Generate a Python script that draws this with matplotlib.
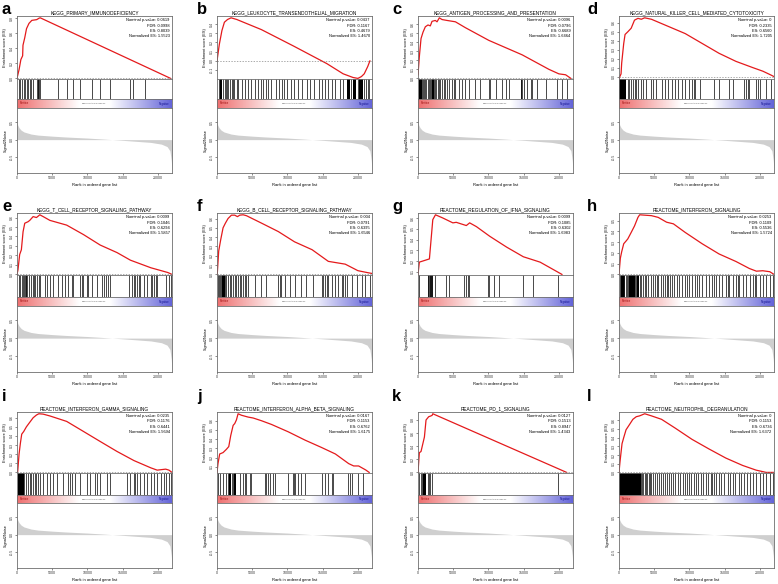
import matplotlib
matplotlib.use("Agg")
import matplotlib.pyplot as plt
from matplotlib.colors import LinearSegmentedColormap
from matplotlib.ticker import MultipleLocator, FormatStrFormatter
import numpy as np

plt.rcParams['font.family'] = ['Liberation Sans', 'DejaVu Sans']

W, H = 778, 584
N_GENES = 22000

letters = list("abcdefghijkl")
titles = [
    "KEGG_PRIMARY_IMMUNODEFICIENCY",
    "KEGG_LEUKOCYTE_TRANSENDOTHELIAL_MIGRATION",
    "KEGG_ANTIGEN_PROCESSING_AND_PRESENTATION",
    "KEGG_NATURAL_KILLER_CELL_MEDIATED_CYTOTOXICITY",
    "KEGG_T_CELL_RECEPTOR_SIGNALING_PATHWAY",
    "KEGG_B_CELL_RECEPTOR_SIGNALING_PATHWAY",
    "REACTOME_REGULATION_OF_IFNA_SIGNALING",
    "REACTOME_INTERFERON_SIGNALING",
    "REACTOME_INTERFERON_GAMMA_SIGNALING",
    "REACTOME_INTERFERON_ALPHA_BETA_SIGNALING",
    "REACTOME_PD_1_SIGNALING",
    "REACTOME_NEUTROPHIL_DEGRANULATION",
]
pvals = ["0.0619", "0.0437", "0.0096", "0", "0.0099", "0.004",
         "0.0099", "0.0253", "0.0235", "0.0167", "0.0127", "0"]
fdrs = ["0.0998", "0.1167", "0.0796", "0.2335", "0.1046", "0.0791",
        "0.1085", "0.1109", "0.1176", "0.1153", "0.1513", "0.1153"]
es_txt = ["0.8039", "0.4679", "0.6689", "0.6560", "0.6294", "0.6395",
          "0.6302", "0.5536", "0.6441", "0.6762", "0.8947", "0.6736"]
nes_txt = ["1.5523", "1.4670", "1.6464", "1.7205", "1.5857", "1.6546",
           "1.6983", "1.5724", "1.5694", "1.6175", "1.4343", "1.6372"]
es_step = [0.2, 0.1, 0.1, 0.1, 0.1, 0.1, 0.1, 0.1, 0.1, 0.1, 0.2, 0.1]

# running enrichment score (rank, ES)
es_ranks = {
    'a': [0, 300, 550, 800, 850, 1100, 1350, 1700, 2100, 2800, 3150, 3300, 21800],
    'b': [0, 330, 700, 1050, 1500, 2000, 2800, 6300, 10900, 15600, 17900, 19300, 20000,
          20500, 20900, 21400, 21700],
    'c': [0, 190, 430, 710, 1040, 1420, 1750, 1990, 2460, 2700, 3030, 3410, 4120, 5310,
          6730, 10050, 14790, 18580, 20000, 20950, 21700],
    'd': [0, 290, 380, 670, 860, 1250, 1730, 2200, 2690, 3170, 3640, 4600, 7000, 9400,
          11800, 14200, 16600, 19000, 20430, 21630, 22000],
    'e': [0, 140, 380, 620, 860, 1100, 1570, 1810, 2290, 2760, 3240, 3710, 4670, 7050,
          9440, 11800, 14200, 16100, 19000, 21400, 22000],
    'f': [0, 50, 240, 520, 860, 1190, 1570, 2050, 2520, 2900, 3230, 3710, 4190, 6330,
          8700, 11000, 13500, 15800, 18200, 20000, 21300, 22000],
    'g': [0, 190, 1620, 2100, 2480, 3530, 4950, 5430, 6140, 6860, 7330, 8290, 10190,
          12570, 14950, 17330, 20430],
    'h': [0, 190, 380, 670, 1000, 1250, 1730, 2200, 2690, 2930, 4600, 5560, 6760, 7720,
          9400, 11800, 14200, 16600, 18500, 19500, 20400, 21400, 22000],
    'i': [0, 100, 290, 480, 670, 960, 1330, 1710, 2050, 2290, 2760, 3100, 3710, 4670,
          7050, 9430, 11800, 14200, 16600, 19000, 19900, 21100, 21570, 22000],
    'j': [0, 140, 380, 860, 1330, 1670, 1950, 2290, 2520, 2760, 2990, 3470, 3940, 4420,
          5130, 6330, 7740, 10120, 12500, 14850, 16800, 18700, 19400, 20100, 21100, 21600],
    'k': [0, 190, 430, 910, 1140, 1290, 1520, 1710, 2000, 2100, 21100],
    'l': [0, 140, 290, 430, 670, 1000, 1490, 1970, 2450, 2930, 3650, 4600, 6040, 7960,
          10360, 12760, 15160, 17550, 19470, 20900, 22000],
}
es_scores = {
    'a': [0.0, 0.12, 0.25, 0.30, 0.44, 0.54, 0.66, 0.73, 0.77, 0.78, 0.80, 0.804, 0.0],
    'b': [0.0, 0.18, 0.33, 0.42, 0.45, 0.468, 0.45, 0.34, 0.16, -0.03, -0.14, -0.18,
          -0.19, -0.17, -0.14, -0.06, 0.0],
    'c': [0.04, 0.24, 0.44, 0.51, 0.57, 0.59, 0.58, 0.63, 0.64, 0.625, 0.669, 0.65,
          0.64, 0.625, 0.56, 0.42, 0.26, 0.10, 0.05, 0.04, 0.0],
    'd': [-0.02, 0.03, 0.15, 0.37, 0.47, 0.50, 0.54, 0.63, 0.65, 0.64, 0.656, 0.64,
          0.56, 0.48, 0.37, 0.26, 0.17, 0.10, 0.06, 0.015, 0.0],
    'e': [0.0, 0.05, 0.21, 0.26, 0.45, 0.54, 0.556, 0.57, 0.61, 0.60, 0.629, 0.61,
          0.57, 0.52, 0.42, 0.31, 0.23, 0.15, 0.07, 0.02, 0.0],
    'f': [0.0, 0.02, 0.25, 0.37, 0.50, 0.55, 0.60, 0.636, 0.636, 0.62, 0.636, 0.64,
          0.63, 0.55, 0.46, 0.35, 0.265, 0.14, 0.11, 0.04, 0.02, 0.01],
    'g': [0.076, 0.19, 0.22, 0.585, 0.630, 0.60, 0.555, 0.56, 0.545, 0.53, 0.555,
          0.52, 0.43, 0.33, 0.24, 0.19, 0.076],
    'h': [0.0, 0.15, 0.21, 0.285, 0.31, 0.33, 0.39, 0.45, 0.53, 0.554, 0.546, 0.53,
          0.485, 0.47, 0.39, 0.285, 0.19, 0.12, 0.055, 0.03, 0.034, 0.025, 0.0],
    'i': [0.0, 0.01, 0.20, 0.32, 0.42, 0.45, 0.50, 0.54, 0.575, 0.60, 0.63, 0.644,
          0.64, 0.62, 0.56, 0.45, 0.34, 0.23, 0.13, 0.05, 0.025, 0.036, 0.025, 0.0],
    'j': [0.04, 0.135, 0.24, 0.255, 0.29, 0.32, 0.44, 0.55, 0.57, 0.61, 0.676, 0.66,
          0.65, 0.64, 0.63, 0.60, 0.56, 0.48, 0.39, 0.31, 0.24, 0.135, 0.11, 0.11,
          0.067, 0.04],
    'k': [0.0, 0.30, 0.32, 0.54, 0.80, 0.82, 0.85, 0.857, 0.87, 0.895, 0.0],
    'l': [0.0, 0.12, 0.23, 0.33, 0.40, 0.49, 0.55, 0.61, 0.64, 0.65, 0.674, 0.65,
          0.61, 0.51, 0.38, 0.27, 0.165, 0.08, 0.026, 0.0, 0.0],
}

# gene set members along the ranked list
hit_ranks = {
    'a': [250, 480, 700, 950, 1150, 1350, 1600, 1800, 2050, 2300, 2850, 2950, 3050,
          3150, 3250, 5850, 7050, 7900, 8950, 10600, 11800, 13150, 16000, 16450, 18150],
    'b': [330, 510, 880, 1070, 1260, 1440, 1630, 1860, 2090, 2230, 2470, 2790, 3020,
          3490, 3950, 4420, 4880, 5440, 5810, 6280, 6510, 6980, 7300, 7670, 8370, 8840,
          9160, 9530, 10000, 10470, 10930, 11490, 12090, 12790, 13260, 13810, 14420,
          14880, 15350, 15810, 16280, 16740, 17440, 17910, 18470, 19070, 20000, 20930,
          21160, 21400, 21530],
    'c': [90, 240, 330, 430, 570, 710, 850, 1040, 1190, 1370, 1520, 1750, 1900, 1990,
          2230, 2460, 2610, 2840, 3030, 3180, 3410, 3650, 3890, 4120, 4360, 4830, 5070,
          5310, 5780, 6260, 6730, 7200, 8150, 8860, 10050, 10290, 11000, 11940, 12420,
          12890, 14550, 14690, 14790, 15030, 15500, 15970, 16210, 16920, 18110, 19770,
          20480, 21190],
    'd': [1250, 1490, 1730, 1970, 2210, 2450, 2690, 3170, 3400, 3880, 4600, 4840, 5320,
          6040, 6520, 7000, 7480, 7960, 8440, 8920, 9400, 9880, 10360, 10600, 10840,
          11560, 13480, 14200, 15640, 16120, 17790, 18030, 18270, 18510, 19470, 19710,
          19950, 20910, 21630],
    'e': [290, 480, 670, 860, 980, 1100, 1220, 1330, 1480, 1710, 2050, 2200, 2350, 2520,
          2860, 3140, 3330, 3950, 4190, 4670, 5140, 5860, 6330, 6810, 7290, 7760, 8000,
          8950, 9190, 9430, 9900, 10140, 10620, 11330, 12050, 12290, 12600, 12900,
          13240, 15860, 16330, 16570, 16810, 17050, 17290, 17520, 18000, 18480, 18950,
          19190, 19430, 19670, 19900, 21100, 21570, 21810],
    'f': [140, 280, 470, 620, 760, 900, 1090, 1330, 1560, 1800, 2040, 2280, 2510, 2750,
          2990, 3220, 3460, 3700, 3930, 4170, 4410, 5360, 6300, 7020, 8670, 8910, 9150,
          9620, 10330, 11040, 11990, 12700, 13650, 14840, 15070, 15310, 15550, 15790,
          16260, 16730, 17210, 17700, 17950, 18200, 18450, 19100, 19810, 20520, 21000,
          21710],
    'g': [190, 1400, 1480, 1560, 1640, 1720, 1800, 1880, 1960, 2040, 2470, 3990, 4360,
          6590, 6820, 7060, 7300, 9950, 10100, 10850, 11560, 14880, 16300, 19860],
    'h': [190, 380, 530, 670, 770, 1010, 1150, 1250, 1490, 1730, 1970, 2110, 2210, 2450,
          2590, 2690, 2930, 3170, 3410, 3650, 3890, 4130, 4610, 4850, 5090, 5330, 5570,
          5950, 6290, 6530, 6770, 7010, 7250, 7490, 7870, 8210, 8450, 8930, 9410, 9650,
          9890, 10370, 10850, 11090, 11330, 11810, 12290, 12770, 13250, 13490, 13730,
          14210, 14690, 15170, 15410, 15650, 16130, 16610, 16850, 17090, 17570, 18050,
          18530, 19010, 19250, 19490, 19970, 20450, 20930, 21410, 21790],
    'i': [140, 290, 430, 570, 710, 860, 1000, 1330, 1570, 1810, 2050, 2290, 2520, 2760,
          3000, 3240, 3710, 4190, 4670, 5140, 5620, 6570, 7280, 7520, 7760, 8240, 8950,
          9900, 10380, 11090, 11330, 11800, 12760, 13230, 15610, 16090, 16570, 16800,
          17040, 17520, 17990, 18470, 18950, 19420, 19900, 20370, 20850, 21090, 21560,
          21800],
    'j': [140, 380, 850, 1330, 1560, 2100, 2250, 3220, 3700, 3930, 4170, 4650, 4880,
          6780, 7020, 7250, 7490, 7960, 8200, 10100, 10800, 10920, 11040, 11520, 11990,
          12470, 14840, 15310, 15790, 16260, 16500, 18630, 18870, 19100, 20050, 20760],
    'k': [190, 430, 570, 1370, 1520, 1710, 1990, 19860],
    'l': [3170, 3310, 3460, 3650, 3840, 4030, 4220, 4420, 4610, 4850, 5090, 5380, 5660,
          5950, 6240, 6530, 6820, 7100, 7390, 7680, 7970, 8350, 8690, 9020, 9410, 9700,
          9980, 10270, 10610, 10940, 11230, 11570, 11900, 12290, 12670, 13010, 13250,
          13540, 13820, 14210, 14540, 14930, 15410, 15740, 16130, 16510, 16990, 17380,
          17810, 18190, 18530, 19010, 19490, 19970, 20450, 20930, 21410, 21890],
}
# stretches where the hit lines merge into a solid bar (start, end)
hit_blocks = {
    'a': [], 'b': [(400, 700), (18500, 18900), (19300, 19800), (20200, 20700)],
    'c': [(100, 600), (2050, 2250)], 'd': [(0, 1000)], 'e': [], 'f': [(700, 1100)],
    'g': [], 'h': [(250, 700), (1450, 2250), (2600, 2800)], 'i': [(100, 1050)],
    'j': [(1750, 2000), (2400, 2750)], 'k': [(660, 1140)], 'l': [(0, 3100)],
}

# ranked list metric (Signal2Noise), shared by all panels
sig_rank = [0, 100, 300, 600, 1000, 2000, 3000, 5000, 7000, 10000, 12000, 13500,
            15000, 17000, 19000, 20500, 21300, 21700, 21900, 22000]
sig_value = [0.53, 0.42, 0.34, 0.27, 0.22, 0.16, 0.13, 0.10, 0.075, 0.045, 0.02, 0.0,
             -0.02, -0.05, -0.08, -0.13, -0.2, -0.32, -0.6, -0.9]

# layout in pixels
col_left = [17, 217, 418, 619]
col_w = 155
rows = [(16, 79, 99, 108, 173), (213, 275, 297, 306, 372), (412, 473, 495, 503, 568)]
letter_x = [2, 197, 392, 587]
letter_y = [2, 199, 389]

fig = plt.figure(figsize=(W / 100, H / 100), dpi=100)

def add_px(x0, y0, x1, y1):
    return fig.add_axes([x0 / W, 1 - y1 / H, (x1 - x0) / W, (y1 - y0) / H])

spine_c = '#6e6e6e'
cmap = LinearSegmentedColormap.from_list(
    'posneg', [(0, '#ee6f6f'), (0.4, '#ffffff'), (0.6, '#ffffff'), (1, '#6464d8')])
grad = np.linspace(0, 1, 256).reshape(1, -1)

def style(ax):
    for s in ax.spines.values():
        s.set_color(spine_c)
        s.set_linewidth(0.6)
    ax.tick_params(labelsize=2.6, length=1.5, width=0.4, pad=1, colors='#333333')

for i, l in enumerate(letters):
    r, c = divmod(i, 4)
    x0 = col_left[c]
    x1 = x0 + col_w
    t_es, b_es, b_hit, b_bar, b_sig = rows[r]

    # --- enrichment score
    ax = add_px(x0, t_es, x1, b_es)
    style(ax)
    ax.plot(es_ranks[l], es_scores[l], color='#e41a1c', lw=0.9)
    ax.axhline(0, color='#888888', lw=0.5, ls=(0, (2, 2)))
    lo, hi = min(es_scores[l]), max(es_scores[l])
    span = hi - lo
    ax.set_ylim(lo - 0.01 * span, hi + 0.03 * span)
    ax.set_xlim(0, N_GENES)
    ax.set_xticks([])
    ax.yaxis.set_major_locator(MultipleLocator(es_step[i]))
    ax.yaxis.set_major_formatter(FormatStrFormatter('%.1f'))
    ax.tick_params(axis='y', labelrotation=90)
    for t in ax.get_yticklabels():
        t.set_va('center')
    ax.set_ylabel('Enrichment score (ES)', fontsize=2.8, labelpad=1.5)
    ax.set_title(titles[i], fontsize=3.4, pad=1.5)
    ax.text(0.985, 0.965,
            'Nominal p-value: %s\nFDR: %s\nES: %s\nNormalized ES: %s'
            % (pvals[i], fdrs[i], es_txt[i], nes_txt[i]),
            transform=ax.transAxes, ha='right', va='top', fontsize=2.9,
            linespacing=1.45)

    # --- hits
    axh = add_px(x0, b_es, x1, b_hit)
    style(axh)
    axh.vlines(hit_ranks[l], 0, 1, color='black', lw=0.5)
    for s0, s1 in hit_blocks[l]:
        axh.axvspan(s0, s1, color='black', lw=0)
    axh.set_xlim(0, N_GENES)
    axh.set_ylim(0, 1)
    axh.set_xticks([])
    axh.set_yticks([])

    # --- pos/neg colour bar
    axb = add_px(x0, b_hit, x1, b_bar)
    style(axb)
    axb.imshow(grad, aspect='auto', cmap=cmap, extent=(0, 1, 0, 1))
    axb.set_xticks([])
    axb.set_yticks([])
    axb.text(0.015, 0.5, 'Positive', fontsize=1.9, color='#a01010', va='center',
             transform=axb.transAxes)
    axb.text(0.985, 0.5, 'Negative', fontsize=1.9, color='#101090', va='center',
             ha='right', transform=axb.transAxes)
    axb.text(0.5, 0.5, 'Samples/othergroups.vs', fontsize=1.6, color='#555555',
             va='center', ha='center', transform=axb.transAxes)

    # --- ranked list metric
    axs = add_px(x0, b_bar, x1, b_sig)
    style(axs)
    axs.fill_between(sig_rank, sig_value, 0, color='#cfcfcf', lw=0)
    axs.set_xlim(0, N_GENES)
    axs.set_ylim(-0.96, 0.91)
    axs.set_yticks([-0.5, 0.0, 0.5])
    axs.yaxis.set_major_formatter(FormatStrFormatter('%.1f'))
    axs.tick_params(axis='y', labelrotation=90)
    for t in axs.get_yticklabels():
        t.set_va('center')
    axs.set_xticks([0, 5000, 10000, 15000, 20000])
    axs.set_ylabel('Signal2Noise', fontsize=2.8, labelpad=1.5)
    axs.set_xlabel('Rank in ordered gene list', fontsize=3.0, labelpad=1.5)

    fig.text(letter_x[c] / W, 1 - letter_y[r] / H, l, fontsize=12,
             fontweight='bold', va='top', ha='left')

fig.savefig('out.png', dpi=100)
